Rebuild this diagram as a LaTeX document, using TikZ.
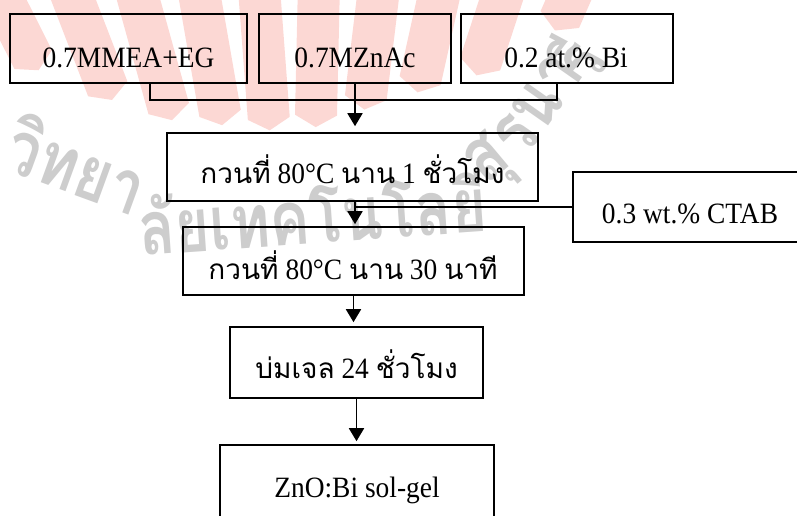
\documentclass[tikz,border=0pt]{standalone}
\usepackage{fontspec}
\setmainfont{Liberation Serif}[FakeStretch=0.93]
\newfontfamily\thaifont[Script=Thai]{Loma}
\newfontfamily\wmfont[Script=Thai,FakeStretch=0.8]{Loma}
\newcommand\thaitext[1]{{\thaifont\fontsize{28}{34}\selectfont #1}}
\usetikzlibrary{arrows.meta,calc}
\definecolor{wmpink}{RGB}{252,216,212}
\definecolor{wmgrey}{RGB}{205,205,205}
\tikzset{
  box/.style={draw, line width=1.6pt, inner sep=0pt},
  lbl/.style={anchor=base, inner sep=0pt, font=\fontsize{29.5}{35}\selectfont},
  conn/.style={line width=1.8pt},
  arr/.style={conn, -{Triangle[length=13pt,width=15pt]}},
  wm/.style={text=wmgrey, font=\wmfont\bfseries\fontsize{75}{85}\selectfont, inner sep=0pt}
}
\begin{document}
\begin{tikzpicture}[x=1pt,y=-1pt]
\useasboundingbox (0,0) rectangle (797,515);
% ---- watermark ----
\begin{scope}
\clip (0,0) rectangle (797,515);
\coordinate (C) at (305,600);
\foreach \t/\d in {-32.3/663,-26.7/593,-21.1/536,-15.5/498,-9.9/482,-4.3/471,1.3/473,6.9/494,12.5/520,18.1/552,23.7/622}{
  \fill[wmpink] ($(C)+(\t-90:\d+12)+(\t:-21)$) -- ($(C)+(\t-90:\d)$) -- ($(C)+(\t-90:\d+12)+(\t:21)$)
     -- ($(C)+(\t-90:\d+700)+(\t:21)$) -- ($(C)+(\t-90:\d+700)+(\t:-21)$) -- cycle;
}
\node[wm, rotate=-20] (w1) at (78,164) {วิทยา};
\node[wm, rotate=4] (w2) at (312,212) {ลัยเทคโนโลยี};
\node[wm, rotate=40] (w3) at (492,165) {สุ};
\node[wm, rotate=55] (w4) at (538,105) {รนา};
\node[wm, rotate=62] (w5) at (575,58) {รี};
\end{scope}
% ---- boxes ----
\node[box, minimum width=237pt, minimum height=69pt] (b1) at (128.5,48.5) {};
\node[box, minimum width=192pt, minimum height=69pt] (b2) at (355,48.5) {};
\node[box, minimum width=212pt, minimum height=69pt] (b3) at (567,48.5) {};
\node[box, minimum width=371pt, minimum height=68pt] (b4) at (352.5,167) {};
\node[box, minimum width=234pt, minimum height=70pt] (ctab) at (690,207) {};
\node[box, minimum width=341pt, minimum height=68pt] (b5) at (353.5,261) {};
\node[box, minimum width=253pt, minimum height=71pt] (b6) at (356.5,362.5) {};
\node[box, minimum width=274pt, minimum height=84pt] (b7) at (357,487) {};
% ---- labels ----
\node[lbl] (t1) at (128.5,67) {0.7MMEA+EG};
\node[lbl] (t2) at (355,67) {0.7MZnAc};
\node[lbl] (t3) at (566,67) {0.2 at.\% Bi};
\node[lbl] (t4) at (352.5,183) {\thaitext{กวนที่} 80°C \thaitext{นาน} 1 \thaitext{ชั่วโมง}};
\node[lbl] (tc) at (690,223) {0.3 wt.\% CTAB};
\node[lbl] (t5) at (353,279) {\thaitext{กวนที่} 80°C \thaitext{นาน} 30 \thaitext{นาที}};
\node[lbl] (t6) at (356.5,378) {\thaitext{บ่มเจล} 24 \thaitext{ชั่วโมง}};
\node[lbl] (t7) at (357,497) {ZnO:Bi sol-gel};
% ---- connectors ----
\coordinate (m1) at (150,100);
\coordinate (m3) at (557,100);
\draw[conn] (b1.south -| m1) -- (m1) -- (m3) -- (b3.south -| m3);
\draw[arr, shorten >=6pt] (b2.south) -- (b2.south |- b4.north);
\draw[arr, shorten >=2pt] (b4.south -| b2.south) -- (b5.north -| b2.south);
\draw[conn] (ctab.west) -- (ctab.west -| b2.south);
\draw[arr, shorten >=4pt] (b5.south) -- (b5.south |- b6.north);
\draw[arr, shorten >=3pt] (b6.south) -- (b6.south |- b7.north);
\end{tikzpicture}
\end{document}
